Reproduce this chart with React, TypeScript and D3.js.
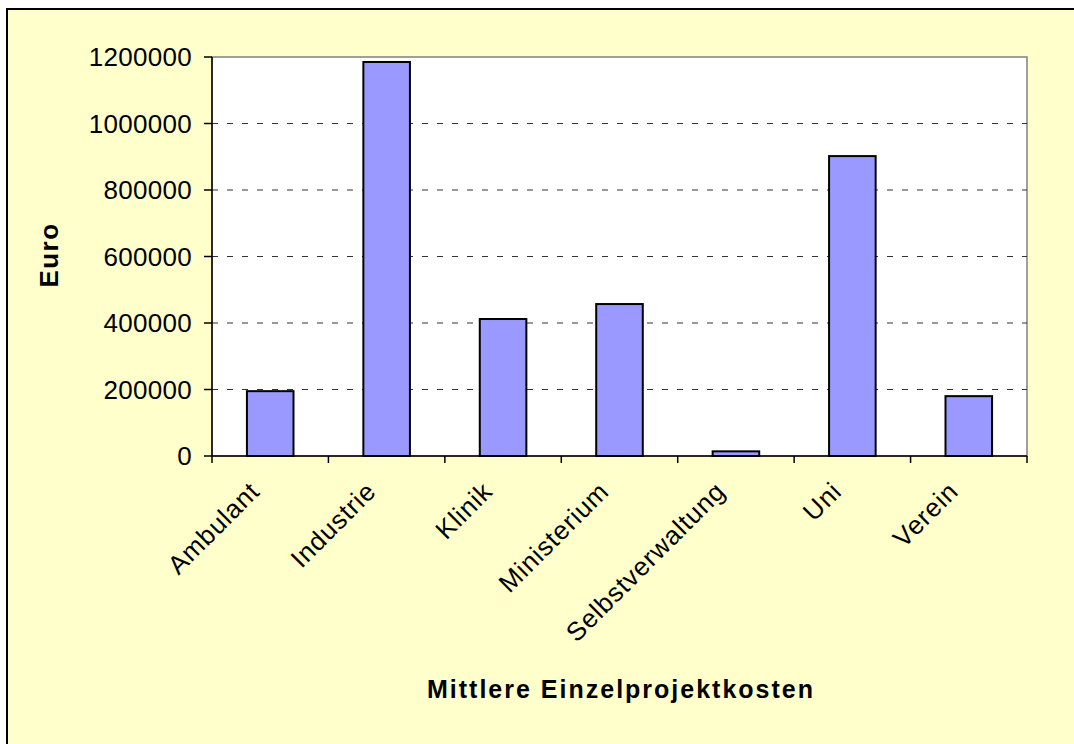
import React from "react";
import * as d3 from "d3";

const categories = ["Ambulant", "Industrie", "Klinik", "Ministerium", "Selbstverwaltung", "Uni", "Verein"];
const values = [195000, 1185000, 412000, 457000, 14000, 902000, 180000];
const yTicks = [0, 200000, 400000, 600000, 800000, 1000000, 1200000];
const yTitle = "Euro";
const xTitle = "Mittlere Einzelprojektkosten";

export default function App() {
  const W = 1074, H = 744;
  const left = 212, right = 1027, top = 57, bottom = 456;
  const x = d3.scaleBand<string>().domain(categories).range([left, right]).paddingInner(0.6).paddingOuter(0.3);
  const xb = d3.scaleBand<string>().domain(categories).range([left, right]);
  const y = d3.scaleLinear().domain([0, 1200000]).range([bottom, top]);
  const font = "'Liberation Sans', Arial, sans-serif";
  const fmt = d3.format("d");
  return (
    <svg width={W} height={H} style={{ position: "absolute", left: 0, top: 0 }} fontFamily={font}>
      <rect x={7} y={9} width={W + 20} height={H + 20} fill="#FFFFCC" stroke="#000" strokeWidth={2} />
      <rect x={left} y={top} width={right - left} height={bottom - top} fill="#fff" stroke="#808080" strokeWidth={1.5} />
      {yTicks.filter(t => t > 0 && t < 1200000).map(t => (
        <line key={"g" + t} x1={left} x2={right} y1={y(t)} y2={y(t)} stroke="#333" strokeWidth={1} strokeDasharray="6 9" />
      ))}
      {categories.map((c, i) => (
        <rect key={c} x={x(c)} y={y(values[i])} width={x.bandwidth()} height={bottom - y(values[i])}
          fill="#9999FF" stroke="#000" strokeWidth={2} />
      ))}
      <line x1={left} x2={left} y1={top} y2={bottom} stroke="#000" strokeWidth={1.5} />
      <line x1={left} x2={right} y1={bottom} y2={bottom} stroke="#000" strokeWidth={1.5} />
      {yTicks.map(t => (
        <g key={"t" + t}>
          <line x1={left - 8} x2={left} y1={y(t)} y2={y(t)} stroke="#000" strokeWidth={1.5} />
          <text x={192} y={y(t)} dy="0.36em" textAnchor="end" fontSize={26} letterSpacing={0.3}>{fmt(t)}</text>
        </g>
      ))}
      {categories.map((c) => (
        <line key={"xt" + c} x1={xb(c)!} x2={xb(c)!} y1={bottom} y2={bottom + 7} stroke="#000" strokeWidth={1.5} />
      ))}
      <line x1={right} x2={right} y1={bottom} y2={bottom + 7} stroke="#000" strokeWidth={1.5} />
      {categories.map(c => {
        const cx = xb(c)! + xb.bandwidth() / 2 - 9;
        const cy = 493;
        return (
          <text key={"l" + c} x={cx} y={cy} textAnchor="end" fontSize={26} letterSpacing={0.9}
            transform={`rotate(-45 ${cx} ${cy})`}>{c}</text>
        );
      })}
      <text x={0} y={0} transform={`translate(58 255) rotate(-90)`} textAnchor="middle"
        fontSize={26} fontWeight="bold" letterSpacing={1.5}>{yTitle}</text>
      <text x={621} y={698} textAnchor="middle" fontSize={25} fontWeight="bold" letterSpacing={2}>{xTitle}</text>
    </svg>
  );
}
